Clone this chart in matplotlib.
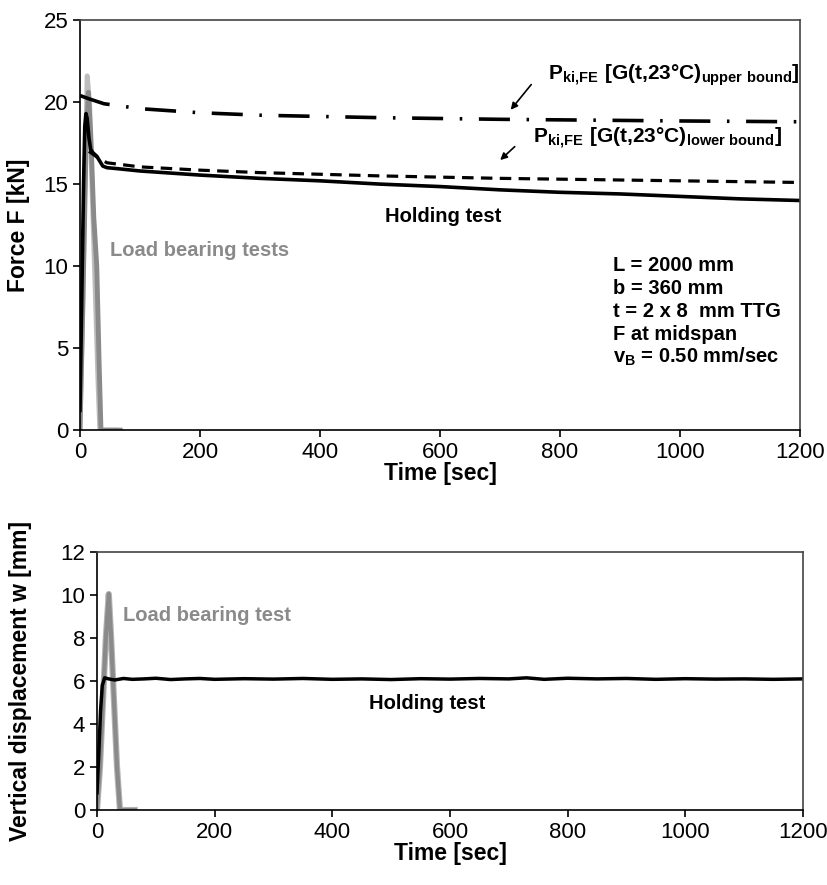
import matplotlib
matplotlib.use('agg')
import matplotlib.pyplot as plt

plt.rcParams['font.family'] = ['Liberation Sans', 'DejaVu Sans']
plt.rcParams['mathtext.fontset'] = 'custom'
plt.rcParams['mathtext.rm'] = 'Liberation Sans'
plt.rcParams['mathtext.bf'] = 'Liberation Sans:bold'

# --- force vs time (upper chart) ---
hold_t = [0, 3, 6, 8, 10, 12, 15, 18, 22, 28, 33, 38, 45, 60, 100, 200, 300, 400,
          500, 600, 700, 800, 900, 1000, 1100, 1200]
hold_F = [1.2, 8.0, 15.0, 18.5, 19.3, 19.0, 17.8, 17.1, 16.9, 16.7, 16.4, 16.1, 16.0,
          15.95, 15.8, 15.55, 15.35, 15.2, 15.0, 14.85, 14.65, 14.5, 14.4, 14.25, 14.1, 14.0]

lb1_t = [0, 4, 8, 12, 16, 20, 25, 30, 33, 60]
lb1_F = [0.0, 6.0, 15.0, 21.6, 20.0, 15.0, 9.0, 3.0, 0.0, 0.0]
lb2_t = [0, 5, 10, 14, 18, 23, 28, 32, 35, 67]
lb2_F = [0.0, 8.0, 17.0, 20.6, 18.0, 13.0, 10.0, 4.0, 0.0, 0.0]

upper_t = [0, 15, 40, 100, 200, 300, 500, 700, 1000, 1200]
upper_F = [20.4, 20.2, 19.9, 19.6, 19.35, 19.2, 19.05, 18.95, 18.85, 18.8]

lower_t = [15, 30, 45, 100, 200, 300, 400, 500, 700, 900, 1200]
lower_F = [17.0, 16.6, 16.3, 16.05, 15.85, 15.7, 15.6, 15.5, 15.35, 15.25, 15.1]

# --- displacement vs time (lower chart) ---
hw_t = [0, 3, 6, 9, 13, 20, 30, 45, 60, 80, 100, 125, 150, 175, 200, 250, 300, 350,
        400, 450, 500, 550, 600, 650, 700, 730, 760, 800, 850, 900, 950, 1000, 1050,
        1100, 1150, 1200]
hw_w = [0.8, 2.6, 4.6, 5.8, 6.15, 6.1, 6.05, 6.12, 6.08, 6.1, 6.13, 6.07, 6.1, 6.12,
        6.08, 6.11, 6.09, 6.12, 6.08, 6.1, 6.07, 6.11, 6.09, 6.12, 6.1, 6.15, 6.08,
        6.13, 6.1, 6.12, 6.08, 6.11, 6.09, 6.1, 6.08, 6.1]
lbw_t = [0, 5, 10, 15, 20, 24, 29, 34, 39, 64]
lbw_w = [0.0, 2.0, 5.0, 8.0, 10.05, 8.0, 5.0, 2.0, 0.0, 0.0]

fig = plt.figure(figsize=(8.27, 8.85), dpi=100)
ax1 = fig.add_axes([0.0967, 0.514, 0.8706, 0.4633])
ax2 = fig.add_axes([0.1173, 0.0847, 0.8537, 0.2915])

grey = '#8a8a8a'
ax1.plot(lb1_t, lb1_F, color='#bdbdbd', lw=3.5)
ax1.plot(lb2_t, lb2_F, color=grey, lw=3.5)
ax1.plot(upper_t, upper_F, color='black', lw=2.6,
         linestyle=(0, (8.6, 4.6, 0.7, 4.6)))
ax1.plot(lower_t, lower_F, color='black', lw=2.3, linestyle=(0, (3.6, 2.3)))
ax1.plot(hold_t, hold_F, color='black', lw=2.6)

ax1.set_xlim(0, 1200)
ax1.set_ylim(0, 25)
ax1.set_xticks(range(0, 1201, 200))
ax1.set_yticks(range(0, 26, 5))
ax1.set_xlabel('Time [sec]', fontsize=16.5, fontweight='bold')
ax1.set_ylabel('Force F [kN]', fontsize=16.5, fontweight='bold')
ax1.xaxis.set_label_coords(0.5, -0.078)
ax1.yaxis.set_label_coords(-0.069, 0.5)

ax1.annotate('', xy=(715, 19.4), xytext=(755, 21.2),
             arrowprops=dict(arrowstyle='-|>', color='black', lw=1.2))
ax1.annotate('', xy=(697, 16.35), xytext=(728, 17.4),
             arrowprops=dict(arrowstyle='-|>', color='black', lw=1.2))
ax1.text(780, 21.65, r'$\mathbf{P_{ki{,}FE}\ [G(t{,}23°C)_{upper\ bound}]}$',
         fontsize=15, va='center')
ax1.text(755, 17.8, r'$\mathbf{P_{ki{,}FE}\ [G(t{,}23°C)_{lower\ bound}]}$',
         fontsize=15, va='center')
ax1.text(605, 13.05, 'Holding test', fontsize=14.5, fontweight='bold',
         ha='center', va='center')
ax1.text(50, 10.95, 'Load bearing tests', fontsize=14.5, fontweight='bold',
         color=grey, va='center')

info = ['L = 2000 mm', 'b = 360 mm', 't = 2 x 8  mm TTG', 'F at midspan',
        r'v$_\mathbf{B}$ = 0.50 mm/sec']
for i, s in enumerate(info):
    ax1.text(888, 10.06 - 1.4 * i, s, fontsize=14.5, fontweight='bold', va='center')

ax2.plot(lbw_t, lbw_w, color='#b5b5b5', lw=4.5)
ax2.plot(lbw_t, lbw_w, color=grey, lw=3)
ax2.plot(hw_t, hw_w, color='black', lw=2.5)
ax2.set_xlim(0, 1200)
ax2.set_ylim(0, 12)
ax2.set_xticks(range(0, 1201, 200))
ax2.set_yticks(range(0, 13, 2))
ax2.set_xlabel('Time [sec]', fontsize=16.5, fontweight='bold')
ax2.set_ylabel('Vertical displacement w [mm]', fontsize=16.5, fontweight='bold')
ax2.xaxis.set_label_coords(0.5, -0.124)
ax2.yaxis.set_label_coords(-0.092, 0.5)
ax2.text(44, 9.07, 'Load bearing test', fontsize=14.5, fontweight='bold',
         color=grey, va='center')
ax2.text(561, 4.95, 'Holding test', fontsize=14.5, fontweight='bold',
         ha='center', va='center')

for ax in (ax1, ax2):
    ax.tick_params(labelsize=16, direction='out', length=5, width=1.2)
    for sp in ax.spines.values():
        sp.set_linewidth(1.2)
    ax.spines['top'].set_color('#444444')
    ax.spines['right'].set_color('#444444')

fig.savefig('out.png', dpi=100)
plt.close(fig)
